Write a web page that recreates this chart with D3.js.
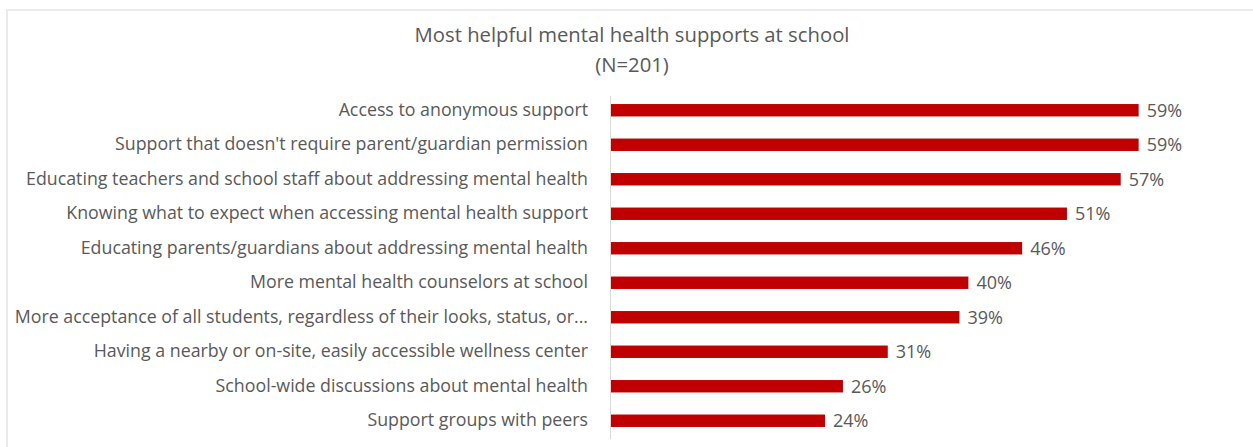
<!DOCTYPE html>
<html>
<head>
<meta charset="utf-8">
<script src="https://cdn.jsdelivr.net/npm/d3@7"></script>
<style>
  html, body { margin: 0; padding: 0; background: #fff; }
  svg { display: block; }
</style>
</head>
<body>
<svg id="chart" width="1253" height="447"></svg>
<script>
// Survey items, top to bottom
const categories = [
  "Access to anonymous support",
  "Support that doesn't require parent/guardian permission",
  "Educating teachers and school staff about addressing mental health",
  "Knowing what to expect when accessing mental health support",
  "Educating parents/guardians about addressing mental health",
  "More mental health counselors at school",
  "More acceptance of all students, regardless of their looks, status, or...",
  "Having a nearby or on-site, easily accessible wellness center",
  "School-wide discussions about mental health",
  "Support groups with peers"
];
// Share of respondents (%)
const values = [59, 59, 57, 51, 46, 40, 39, 31, 26, 24];
const titleLines = ["Most helpful mental health supports at school", "(N=201)"];

const svg = d3.select("#chart");
const W = 1253, H = 447;
const textColor = "#595959";
const font = "'Open Sans', 'Noto Sans', sans-serif";
const labelSize = 17.8;
const valueSize = 18;

// Chart-area frame (top and left edges visible)
svg.append("path")
  .attr("d", `M7,${H} L7,10 L${W},10`)
  .attr("fill", "none")
  .attr("stroke", "#ebebeb")
  .attr("stroke-width", 2);

// Title
svg.append("text")
  .attr("x", 632)
  .attr("y", 42)
  .attr("text-anchor", "middle")
  .attr("font-family", font)
  .attr("font-size", 20.3)
  .attr("fill", textColor)
  .selectAll("tspan")
  .data(titleLines)
  .join("tspan")
  .attr("x", 632)
  .attr("dy", (d, i) => i === 0 ? 0 : 30)
  .text(d => d);

const x = d3.scaleLinear().domain([0, 100]).range([610, 610 + 896]);
const y = d3.scaleBand().domain(categories).range([93, 438]).paddingInner(0.64).paddingOuter(0.32);

// Bars
svg.append("g")
  .selectAll("rect")
  .data(values)
  .join("rect")
  .attr("x", x(0))
  .attr("y", (d, i) => y(categories[i]))
  .attr("width", d => x(d) - x(0))
  .attr("height", y.bandwidth())
  .attr("fill", "#c00000");

// Category axis
const yAxis = svg.append("g")
  .attr("transform", `translate(${x(0)},0)`)
  .call(d3.axisLeft(y).tickSize(0).tickPadding(22));
yAxis.select(".domain")
  .attr("d", `M0.5,96V439`)
  .attr("stroke", "#d9d9d9")
  .attr("stroke-width", 1);
yAxis.selectAll("text")
  .attr("font-family", font)
  .attr("font-size", labelSize)
  .attr("fill", textColor);

// Value labels
svg.append("g")
  .selectAll("text")
  .data(values)
  .join("text")
  .attr("x", d => x(d) + 8)
  .attr("y", (d, i) => y(categories[i]) + y.bandwidth() / 2)
  .attr("dy", "0.35em")
  .attr("font-family", font)
  .attr("font-size", valueSize)
  .attr("fill", textColor)
  .text(d => d + "%");
</script>
</body>
</html>
